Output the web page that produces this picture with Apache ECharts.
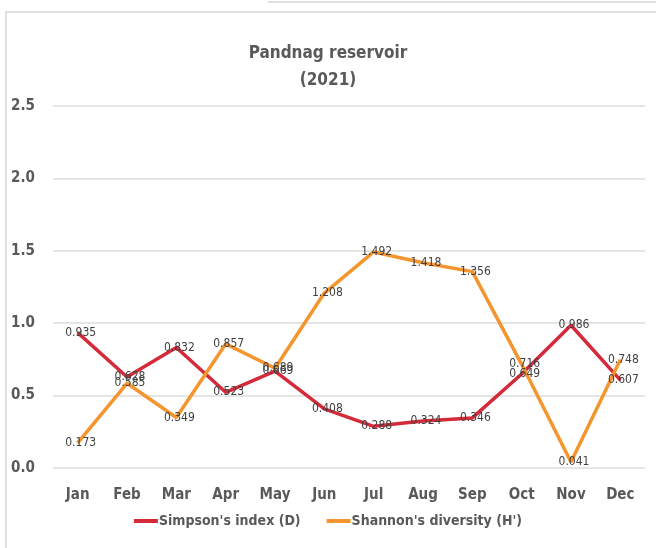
<!DOCTYPE html>
<html>
<head>
<meta charset="utf-8">
<script src="https://cdn.jsdelivr.net/npm/echarts@6/dist/echarts.min.js"></script>
<style>
  html, body { margin: 0; padding: 0; background: #fff; }
  #chart { width: 656px; height: 548px; }
</style>
</head>
<body>
<div id="chart"></div>
<script>
var months = ['Jan', 'Feb', 'Mar', 'Apr', 'May', 'Jun', 'Jul', 'Aug', 'Sep', 'Oct', 'Nov', 'Dec'];
var simpson = [0.935, 0.628, 0.832, 0.523, 0.669, 0.408, 0.288, 0.324, 0.346, 0.649, 0.986, 0.607];
var shannon = [0.173, 0.585, 0.349, 0.857, 0.689, 1.208, 1.492, 1.418, 1.356, 0.716, 0.041, 0.748];
var yTicks = [0, 0.5, 1.0, 1.5, 2.0, 2.5];

var font = '"DejaVu Sans Condensed", "DejaVu Sans", sans-serif';
var myChart = echarts.init(document.getElementById('chart'));

function lineSeries(name, data, color) {
    return {
        name: name,
        type: 'line',
        data: data,
        symbol: 'circle',
        symbolSize: 1,
        lineStyle: { color: color, width: 3.5 },
        itemStyle: { color: color },
        label: {
            show: true,
            position: 'inside',
            offset: [3, 0],
            fontFamily: font,
            fontSize: 12,
            color: '#404040',
            formatter: function (p) { return p.value.toFixed(3); }
        }
    };
}

var option = {
    animation: false,
    title: {
        text: 'Pandnag reservoir\n(2021)',
        left: 'center',
        top: 35,
        textStyle: {
            fontFamily: font,
            fontSize: 17,
            fontWeight: 'bold',
            color: '#595959',
            lineHeight: 27
        }
    },
    legend: {
        bottom: 15,
        left: 'center',
        itemWidth: 24,
        itemHeight: 4,
        itemGap: 26,
        icon: 'rect',
        textStyle: { fontFamily: font, fontSize: 14, fontWeight: 'bold', color: '#595959', padding: [0, 0, 0, -4] },
        data: ["Simpson's index (D)", "Shannon's diversity (H')"]
    },
    grid: { left: 53, right: 11, top: 106, bottom: 80 },
    xAxis: {
        type: 'category',
        data: months,
        axisLine: { show: false },
        axisTick: { show: false },
        axisLabel: { fontFamily: font, fontSize: 15, fontWeight: 'bold', color: '#595959', margin: 20 }
    },
    yAxis: {
        type: 'value',
        min: 0,
        max: 2.5,
        interval: 0.5,
        axisLine: { show: false },
        axisTick: { show: false },
        splitLine: { lineStyle: { color: '#dcdcdc', width: 1.5 } },
        axisLabel: {
            fontFamily: font, fontSize: 15, fontWeight: 'bold', color: '#595959', margin: 18,
            formatter: function (v) { return yTicks.indexOf(v) >= 0 ? v.toFixed(1) : ''; }
        }
    },
    graphic: [
        { type: 'rect', shape: { x: 6, y: 12, width: 670, height: 560 }, style: { fill: 'none', stroke: '#d6d6d6', lineWidth: 1.5 } },
        { type: 'line', shape: { x1: 268, y1: 2, x2: 656, y2: 2 }, style: { stroke: '#d6d6d6', lineWidth: 1.5 } }
    ],
    series: [
        lineSeries("Simpson's index (D)", simpson, '#d42a3a'),
        lineSeries("Shannon's diversity (H')", shannon, '#f5952e')
    ]
};
myChart.setOption(option);
</script>
</body>
</html>
